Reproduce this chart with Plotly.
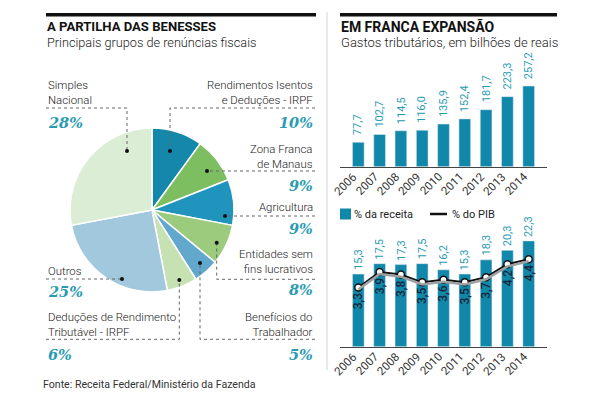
import plotly.graph_objects as go

# page has an 8px body margin: keep the figure inside the 600x400 window
OFF = 8
W, H = 600 - 2 * OFF, 400 - 2 * OFF

# --- data -------------------------------------------------------------
years = ["2006", "2007", "2008", "2009", "2010", "2011", "2012", "2013", "2014"]
gastos = [77.7, 102.7, 114.5, 116.0, 135.9, 152.4, 181.7, 223.3, 257.2]
receita = [15.3, 17.5, 17.3, 17.5, 16.2, 15.3, 18.3, 20.3, 22.3]
pib = [3.3, 3.9, 3.8, 3.5, 3.6, 3.5, 3.7, 4.2, 4.4]

pie_lines = [
    ["Rendimentos Isentos", "e Deduções - IRPF"],
    ["Zona Franca", "de Manaus"],
    ["Agricultura"],
    ["Entidades sem", "fins lucrativos"],
    ["Benefícios do", "Trabalhador"],
    ["Deduções de Rendimento", "Tributável - IRPF"],
    ["Outros"],
    ["Simples", "Nacional"],
]
pie_labels = [" ".join(l) for l in pie_lines]
pie_values = [10, 9, 9, 8, 5, 6, 25, 28]
pie_colors = ["#1587ab", "#7dbf60", "#2194bd", "#9ccb7e",
              "#62a7cc", "#c7e2b2", "#a2c8de", "#dcedd6"]

TEAL = "#1188aa"
TEAL_TXT = "#2a9bb2"
DARK = "#1a1a1a"
SANS = "Roboto"


def px(x):
    return (x - OFF) / W


def py(y):
    return 1 - (y - OFF) / H


def fmt(v):
    return f"{v:.1f}".replace(".", ",")


fig = go.Figure()

# --- pie ----------------------------------------------------------------
fig.add_trace(go.Pie(
    labels=pie_labels, values=pie_values, sort=False, direction="clockwise",
    rotation=0, textinfo="none", hoverinfo="label+percent",
    marker=dict(colors=pie_colors, line=dict(color="#ffffff", width=1.5)),
    domain=dict(x=[px(70), px(234)], y=[py(292), py(128)]),
    showlegend=False,
))

# --- top bars -------------------------------------------------------------
fig.add_trace(go.Bar(x=years, y=gastos, marker_color=TEAL, width=0.55,
                     showlegend=False, xaxis="x", yaxis="y"))

# --- bottom bars + line ---------------------------------------------------
fig.add_trace(go.Bar(x=years, y=receita, marker_color=TEAL, width=0.55,
                     showlegend=False, xaxis="x2", yaxis="y2"))
fig.add_trace(go.Scatter(x=years, y=pib, mode="lines", line=dict(color="#a0a0a0", width=2.5),
                         showlegend=False, xaxis="x2", yaxis="y4", hoverinfo="skip"))
fig.add_trace(go.Scatter(x=years, y=pib, mode="lines", line=dict(color="#111111", width=2),
                         showlegend=False, xaxis="x2", yaxis="y3"))
fig.add_trace(go.Scatter(x=years, y=pib, mode="markers",
                         marker=dict(color="white", size=7, line=dict(color="#111111", width=1.5)),
                         showlegend=False, xaxis="x2", yaxis="y3"))

ann = []
shapes = []


def text(x, y, s, size=12, color=DARK, anchor="left", weight=None, family=SANS, style=None):
    f = dict(family=family, size=size, color=color)
    if weight:
        f["weight"] = weight
    if style:
        f["style"] = style
    ann.append(dict(x=px(x), y=py(y), xref="paper", yref="paper", text=s, showarrow=False,
                    xanchor=anchor, yanchor="middle", align=anchor, font=f))


# titles
shapes.append(dict(type="rect", xref="paper", yref="paper", x0=px(46), x1=px(316),
                   y0=py(16.5), y1=py(13), fillcolor="#111", line_width=0))
shapes.append(dict(type="rect", xref="paper", yref="paper", x0=px(340), x1=px(557),
                   y0=py(16.5), y1=py(13), fillcolor="#111", line_width=0))
shapes.append(dict(type="line", xref="paper", yref="paper", x0=px(327), x1=px(327),
                   y0=py(12), y1=py(370), line=dict(color="#d4d4d4", width=1)))
text(45, 27, "A PARTILHA DAS BENESSES", size=13.1, color="#111", weight="bold")
text(45, 42.5, "Principais grupos de renúncias fiscais", size=12.7, color="#222", weight=300)
text(339, 27, "EM FRANCA EXPANSÃO", size=14, color="#111", weight="bold")
text(339, 42.5, "Gastos tributários, em bilhões de reais", size=13, color="#222", weight=300)
text(41, 384, "Fonte: Receita Federal/Ministério da Fazenda", size=10.6, color="#333")

# pie callouts: side, label centre y, percent y, leader path ending at the dot
callouts = [
    ("right", 92.5, 122, [(315, 108), (170, 108), (170, 151)]),
    ("right", 156, 185, [(315, 171), (207, 171)]),
    ("right", 207, 228.7, [(315, 216), (225, 216)]),
    ("right", 261.5, 289.5, [(315, 279.3), (216.7, 279.3), (216.7, 242.7)]),
    ("right", 324.5, 354, [(315, 339.3), (200, 339.3), (200, 263)]),
    ("left", 324.5, 354, [(46, 339.3), (179.3, 339.3), (179.3, 280)]),
    ("left", 270.5, 291.7, [(46, 279), (122, 279)]),
    ("left", 92.5, 122, [(46, 108), (127, 108), (127, 151)]),
]
for lines, val, (side, ly, pct_y, path) in zip(pie_lines, pie_values, callouts):
    xa = 315 if side == "right" else 46
    text(xa, ly, "<br>".join(lines), size=11.4, color="#222", anchor=side, weight=300)
    text(xa, pct_y, f"{val}%", size=14.5, color=TEAL_TXT, anchor=side,
         family="DejaVu Serif", style="italic", weight="bold")
    d = "M " + " L ".join(f"{px(x):.5f},{py(y):.5f}" for x, y in path)
    shapes.append(dict(type="path", xref="paper", yref="paper", path=d,
                       line=dict(color="#666", width=1, dash="dot")))
    cx, cy = path[-1]
    shapes.append(dict(type="circle", xref="paper", yref="paper", x0=px(cx - 2), x1=px(cx + 2),
                       y0=py(cy + 2), y1=py(cy - 2), fillcolor="#111", line_width=0))

# bar value labels and rotated year labels (x given as category index)
for i, (yr, v) in enumerate(zip(years, gastos)):
    ann.append(dict(x=i, y=v, xref="x", yref="y", text=fmt(v), showarrow=False,
                    textangle=-90, yanchor="bottom", yshift=5,
                    font=dict(family=SANS, size=11, color=TEAL_TXT)))
    ann.append(dict(x=i, y=0, xref="x", yref="y", text=yr, showarrow=False,
                    textangle=-45, xanchor="right", yanchor="top", xshift=4, yshift=0,
                    font=dict(family=SANS, size=11.5, color="#333")))
for i, (yr, v) in enumerate(zip(years, receita)):
    ann.append(dict(x=i, y=v, xref="x2", yref="y2", text=fmt(v), showarrow=False,
                    textangle=-90, yanchor="bottom", yshift=2,
                    font=dict(family=SANS, size=11, color=TEAL_TXT)))
    ann.append(dict(x=i, y=0, xref="x2", yref="y2", text=yr, showarrow=False,
                    textangle=-45, xanchor="right", yanchor="top", xshift=4, yshift=0,
                    font=dict(family=SANS, size=11.5, color="#333")))
for i, v in enumerate(pib):
    ann.append(dict(x=i, y=v, xref="x2", yref="y3", text=fmt(v), showarrow=False,
                    textangle=-90, yanchor="top", yshift=-3,
                    font=dict(family=SANS, size=12, color="#15283a", weight=500)))

# legend
shapes.append(dict(type="rect", xref="paper", yref="paper", x0=px(340), x1=px(351),
                   y0=py(219.5), y1=py(208.5), fillcolor=TEAL, line_width=0))
text(352, 214, "% da receita", size=11, color="#222")
shapes.append(dict(type="line", xref="paper", yref="paper", x0=px(430), x1=px(447),
                   y0=py(214), y1=py(214), line=dict(color="#111", width=2.5)))
text(450, 214, "% do PIB", size=11, color="#222")

xr = [-0.86, 8.86]
xcommon = dict(type="category", range=xr, showgrid=False, showline=True, linecolor="#444",
               linewidth=1, ticks="", showticklabels=False, fixedrange=True)
ycommon = dict(visible=False, showgrid=False, zeroline=False, fixedrange=True)

fig.update_layout(
    width=W, height=H, margin=dict(l=0, r=0, t=0, b=0),
    paper_bgcolor="white", plot_bgcolor="white",
    xaxis=dict(domain=[px(340), px(547)], anchor="y", **xcommon),
    yaxis=dict(domain=[py(166.7), py(50)], range=[0, 372], anchor="x", **ycommon),
    xaxis2=dict(domain=[px(340), px(547)], anchor="y2", **xcommon),
    yaxis2=dict(domain=[py(346.7), py(220)], range=[0, 26.7], anchor="x2", **ycommon),
    yaxis3=dict(overlaying="y2", range=[1.0, 5.92], anchor="x2", **ycommon),
    yaxis4=dict(overlaying="y2", range=[1.08, 6.0], anchor="x2", **ycommon),
    annotations=ann, shapes=shapes, bargap=0.45,
)

fig.write_html("out.html")
